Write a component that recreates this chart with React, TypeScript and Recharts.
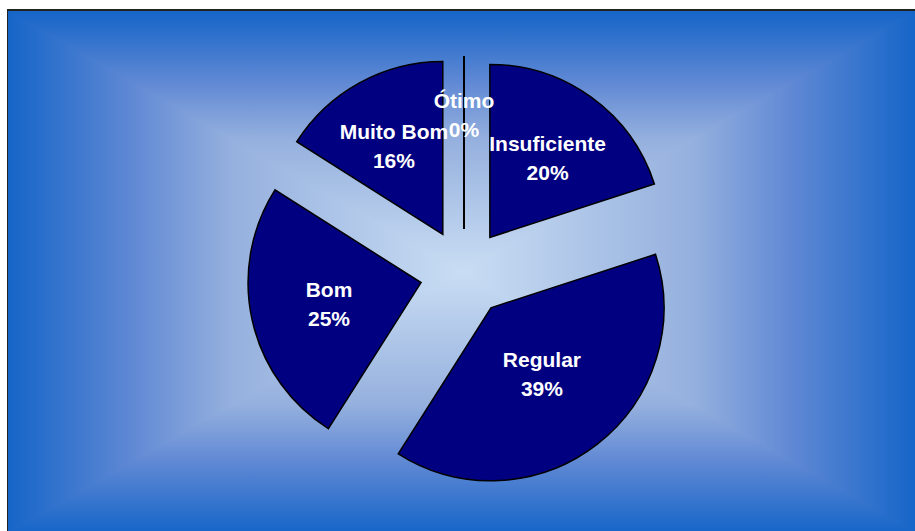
import { PieChart, Pie, Sector } from 'recharts'

const categories = ['Insuficiente', 'Regular', 'Bom', 'Muito Bom', 'Ótimo']
const shares = [20, 39, 25, 16, 0]

const data = categories.map((name, i) => ({ name, value: shares[i] }))

const RADIAN = Math.PI / 180
const EXPLODE = 44
const NAVY = '#000080'

// rectangle gradient: dark blue edges, pale centre
const ramp = (dir: string) =>
  `linear-gradient(${dir}, #1565c8 0%, #5f88d4 13.5%, #95b0de 24.5%, #c9ddf3 50%, #95b0de 75.5%, #5f88d4 86.5%, #1565c8 100%)`

// each slice pushed out along its own mid angle
const renderSlice = (props: any) => {
  const { cx, cy, midAngle, innerRadius, outerRadius, startAngle, endAngle, value } = props
  const ox = cx + EXPLODE * Math.cos(-midAngle * RADIAN)
  const oy = cy + EXPLODE * Math.sin(-midAngle * RADIAN)
  if (!value) {
    // a 0% slice is just a line
    const ex = ox + outerRadius * Math.cos(-midAngle * RADIAN)
    const ey = oy + outerRadius * Math.sin(-midAngle * RADIAN)
    return <path d={`M${ox},${oy}L${ex},${ey}`} stroke="#000" strokeWidth={2} />
  }
  return (
    <Sector
      cx={ox}
      cy={oy}
      innerRadius={innerRadius}
      outerRadius={outerRadius}
      startAngle={startAngle}
      endAngle={endAngle}
      fill={NAVY}
      stroke="#000"
      strokeWidth={1.5}
    />
  )
}

const renderLabel = (props: any) => {
  const { cx, cy, midAngle, outerRadius, percent, name, value } = props
  const r = EXPLODE + outerRadius * (0.66 - percent * 0.46)
  const x = cx + r * Math.cos(-midAngle * RADIAN)
  const y = cy + r * Math.sin(-midAngle * RADIAN)
  return (
    <text
      x={x}
      y={y}
      textAnchor="middle"
      fill="#fff"
      fontFamily="'Liberation Sans', Arial, sans-serif"
      fontWeight="bold"
      fontSize={21}
    >
      <tspan x={x} y={y - 14} dominantBaseline="central">{name}</tspan>
      <tspan x={x} y={y + 15} dominantBaseline="central">{`${value}%`}</tspan>
    </text>
  )
}

export default function App() {
  return (
    <div
      style={{
        position: 'absolute',
        left: 7,
        top: 9,
        width: 908,
        height: 522,
        borderTop: '2px solid #222',
        borderLeft: '1px solid #222',
        background: `${ramp('to right')}, ${ramp('to bottom')}`,
        backgroundBlendMode: 'darken',
      }}
    >
      <PieChart width={907} height={520} style={{ position: 'absolute', left: 0, top: 0 }}>
        <Pie
          data={data}
          dataKey="value"
          nameKey="name"
          cx={451}
          cy={257}
          outerRadius={173}
          startAngle={90}
          endAngle={-270}
          shape={renderSlice}
          label={renderLabel}
          labelLine={false}
          isAnimationActive={false}
        />
      </PieChart>
    </div>
  )
}
